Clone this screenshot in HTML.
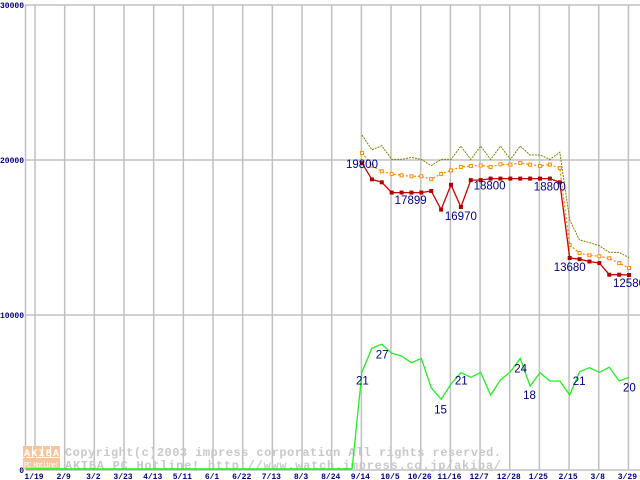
<!DOCTYPE html>
<html><head><meta charset="utf-8"><style>
body{margin:0;background:#fff;}
svg{display:block;font-family:"Liberation Mono","DejaVu Sans Mono",monospace;}
</style></head><body>
<svg id="chart" width="640" height="480" viewBox="0 0 640 480">
<g id="grid"></g>
<g id="wm">
 <rect x="23" y="446" width="9" height="11" fill="#f8c49a"/>
 <rect x="33" y="446" width="9" height="11" fill="#f8c49a"/>
 <rect x="43" y="446" width="7" height="11" fill="#f8c49a"/>
 <rect x="51" y="446" width="9" height="11" fill="#f8c49a"/>
 <rect x="23" y="458" width="37" height="11" fill="#f8c49a"/>
 <text x="24" y="456" font-size="10" fill="#fff" font-weight="bold" textLength="35">AKIBA</text>
 <text x="24" y="467" font-size="7" fill="#fff" textLength="35">PC Hotline!</text>
 <text x="65" y="456" font-size="12" fill="#c8c8c8" font-weight="bold" textLength="436">Copyright(c)2003 impress corporation All rights reserved.</text>
 <text x="65" y="469" font-size="12" fill="#c8c8c8" font-weight="bold" textLength="436">AKIBA PC Hotline!  http://www.watch.impress.co.jp/akiba/</text>
</g>
<g id="series"></g>
<g id="labels"></g>
</svg>
<script>
const xTicks=["1/19","2/9","3/2","3/23","4/13","5/11","6/1","6/22","7/13","8/3","8/24","9/14","10/5","10/26","11/16","12/7","12/28","1/25","2/15","3/8","3/29"];
const yTicks=[0,10000,20000,30000];
const maxPrice=[21610,20650,20920,20040,20040,20170,20040,19630,20040,20040,20900,20040,20900,20040,20900,20040,20900,20320,20320,20040,20500,16130,14840,14670,14470,14040,14040,13700];
const avgPrice=[20450,19630,19270,19100,19010,18950,18950,18770,19100,19330,19550,19610,19650,19550,19720,19700,19810,19700,19610,19700,19480,14520,14000,13850,13790,13660,13350,13030];
const minPrice=[19800,18750,18560,17899,17899,17899,17899,18000,16800,18400,16970,18700,18700,18800,18800,18800,18800,18800,18800,18800,18560,13680,13600,13450,13350,12600,12600,12580];
const shopCount=[6340,7850,8110,7530,7350,6920,7200,5310,4560,5550,6280,5980,6300,4840,5810,6340,7200,5420,6280,5740,5740,4840,6340,6600,6300,6630,5740,5980];
const minLabelIdx=[0,3,10,13,20,21,27];
const minLabelText=["19800","17899","16970","18800","18800","13680","12580"];
const shopLabelIdx=[0,2,8,10,16,17,21,27];
const shopLabelText=["21","27","15","21","24","18","21","20"];
// label offsets (styling)
const minDx=[-16,3,-16,-17,-26,-16,-16], minDy=[5,11.5,13,11,8,13,12];
const shopDx=[-6,-6,-7,-6,-6,-7,3,-6], shopDy=[13,14,14,12,14,13,-10,14];

const NS="http://www.w3.org/2000/svg";
function X(i){return 362+i*9.89;}
function tickX(k){return 35+k*29.67;}
function Y(v){return 470-v*0.0155;}
function mk(tag,attrs,parent){const e=document.createElementNS(NS,tag);for(const k in attrs)e.setAttribute(k,attrs[k]);parent.appendChild(e);return e;}
const grid=document.getElementById('grid'),ser=document.getElementById('series'),lab=document.getElementById('labels');
yTicks.forEach(v=>{
 const l=mk('line',{x1:25.5,x2:640,y1:Y(v),y2:Y(v),stroke:'#c0c0c0','stroke-width':1.5},grid);
 
 
 const t=mk('text',{x:24,y:Y(v)+3,'font-size':8,'font-weight':'bold',fill:'#000080','text-anchor':'end'},grid);
 t.textContent=String(v);
 
 
});
const ax=mk('line',{x1:25.5,x2:25.5,y1:4.5,y2:470,stroke:'#c0c0c0','stroke-width':1.5},grid);


xTicks.forEach((s,k)=>{
 const l=mk('line',{x1:tickX(k),x2:tickX(k),y1:4.5,y2:470,stroke:'#c0c0c0','stroke-width':1.5},grid);
 
 
 const t=mk('text',{x:tickX(k)-1,y:479,'font-size':8,'font-weight':'bold',fill:'#000080','text-anchor':'middle'},grid);
 t.textContent=s;
 
 
});
function pts(arr){return arr.map((v,i)=>X(i).toFixed(1)+','+Y(v).toFixed(1)).join(' ');}
const base=mk('polyline',{points:'26,469 '+(X(-1)).toFixed(1)+',469',fill:'none',stroke:'#00ff00','stroke-width':1.5},ser);


const g=mk('polyline',{points:X(-1).toFixed(1)+',469 '+pts(shopCount),fill:'none',stroke:'#22ee22','stroke-width':1.3},ser);


const mx=mk('polyline',{points:pts(maxPrice),fill:'none',stroke:'#808000','stroke-width':1,'stroke-dasharray':'2,1'},ser);


const av=mk('polyline',{points:pts(avgPrice),fill:'none',stroke:'#ff8c00','stroke-width':1.3,'stroke-dasharray':'2,2'},ser);


avgPrice.forEach((v,i)=>{const r=mk('rect',{x:X(i)-1.5,y:Y(v)-1.5,width:3,height:3,fill:'#fff',stroke:'#ff8c00','stroke-width':1},ser);
 
 });
const mn=mk('polyline',{points:pts(minPrice),fill:'none',stroke:'#cc0000','stroke-width':1.3},ser);


minPrice.forEach((v,i)=>{const r=mk('rect',{x:X(i)-2,y:Y(v)-2,width:4,height:4,fill:'#b00000'},ser);
 
 });
minLabelIdx.forEach((i,k)=>{const t=mk('text',{x:X(i)+minDx[k],y:Y(minPrice[i])+minDy[k],'font-size':11.5,fill:'#000080','font-family':'Liberation Sans,sans-serif'},lab);
 t.textContent=minLabelText[k];
 
 });
shopLabelIdx.forEach((i,k)=>{const t=mk('text',{x:X(i)+shopDx[k],y:Y(shopCount[i])+shopDy[k],'font-size':11.5,fill:'#000080','font-family':'Liberation Sans,sans-serif'},lab);
 t.textContent=shopLabelText[k];
 
 });
</script>
</body></html>
